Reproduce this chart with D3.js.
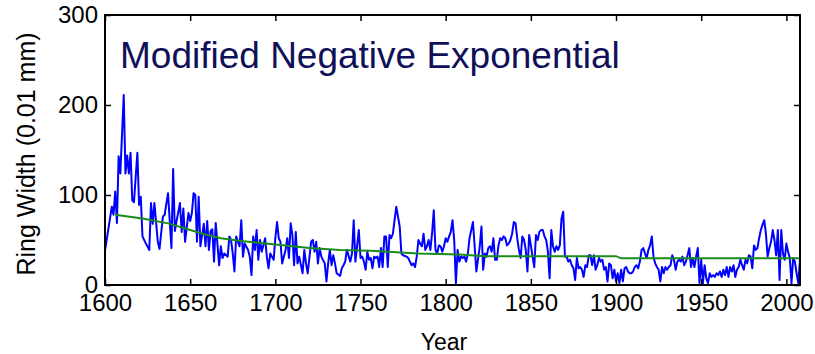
<!DOCTYPE html>
<html>
<head>
<meta charset="utf-8">
<script src="https://cdn.jsdelivr.net/npm/d3@7"></script>
<style>
  html, body { margin: 0; padding: 0; background: #fff; }
  svg { display: block; font-family: "Liberation Sans", Arial, sans-serif; }
</style>
</head>
<body>
<svg id="chart" width="815" height="354"></svg>
<script>
// Raw ring-width series (0.01 mm), by calendar year
const years = [
  1600,1604,1605,1606,1607,1608,1609,1611,1612,1613,1614,1615,1616,1617,1619,1620,1621,1622,1624,1626,
  1627,1628,1629,1631,1632,1634,1635,1637,1639,1640,1641,1642,1644,1645,1646,1647,1649,1650,1651,1652,
  1653,1654,1655,1656,1658,1659,1660,1661,1662,1663,1664,1665,1667,1668,1669,1670,1672,1673,1674,1675,
  1676,1677,1679,1680,1681,1682,1684,1685,1686,1687,1688,1689,1690,1691,1692,1694,1695,1696,1697,1699,
  1700,1701,1702,1703,1704,1706,1707,1708,1709,1710,1711,1712,1713,1714,1716,1717,1718,1719,1721,1722,
  1723,1724,1725,1726,1727,1729,1730,1731,1732,1733,1734,1735,1736,1738,1739,1740,1741,1742,1744,1745,
  1746,1747,1749,1750,1751,1752,1753,1754,1755,1756,1757,1758,1759,1760,1761,1762,1763,1764,1765,1766,
  1767,1768,1769,1770,1771,1773,1774,1775,1777,1778,1780,1781,1782,1783,1784,1785,1786,1787,1788,1789,
  1790,1791,1792,1793,1794,1795,1796,1797,1798,1799,1800,1801,1802,1803,1804,1805,1806,1807,1808,1809,
  1810,1811,1812,1813,1814,1816,1817,1818,1820,1821,1822,1823,1824,1825,1826,1827,1828,1829,1830,1831,
  1832,1833,1834,1835,1836,1837,1838,1839,1840,1841,1842,1843,1844,1845,1846,1847,1848,1849,1850,1851,
  1852,1853,1854,1855,1856,1857,1858,1859,1860,1861,1862,1863,1864,1865,1866,1867,1868,1869,1870,1871,
  1872,1873,1874,1875,1876,1877,1878,1879,1880,1881,1882,1883,1884,1885,1886,1887,1888,1889,1890,1891,
  1892,1893,1894,1895,1896,1897,1898,1899,1900,1901,1902,1903,1904,1905,1906,1907,1908,1909,1910,1911,
  1912,1913,1914,1915,1916,1917,1918,1919,1920,1921,1922,1923,1924,1925,1926,1927,1928,1929,1930,1931,
  1932,1933,1934,1935,1936,1937,1938,1939,1940,1941,1942,1943,1944,1945,1946,1947,1948,1949,1950,1951,
  1952,1953,1954,1955,1956,1957,1958,1959,1960,1961,1962,1963,1964,1965,1966,1967,1968,1969,1970,1971,
  1972,1973,1974,1975,1976,1977,1978,1979,1980,1981,1982,1983,1984,1985,1986,1987,1988,1989,1990,1991,
  1992,1993,1994,1995,1996,1997,1998,1999,2000,2001,2002,2003,2004,2005,2006,2007,2008
];
const ringWidth = [
  38,87,78,104,69,143,124,211,124,144,124,147,94,92,147,89,98,54,46,39,
  91,68,91,48,40,76,78,102,41,129,60,71,91,59,85,48,80,71,80,102,
  100,48,98,43,68,43,71,39,60,62,26,69,22,43,30,35,31.5,54,50,35,
  15,54,43,72,31.5,46,39,31.5,11,54,39,61,28,50,37,52,31.5,18.5,35,28,
  52,70,52,48,24,39,52,30,68.5,55.6,22,59,24,31.5,13,39,24,13,48,50,
  37,48,24,41,31.5,24,4,24,39,22,33,24,13,10,18.5,22,26,39,26,35,
  72,26,61,30,31.5,26,17,37,28,30,18.5,31.5,30,31.5,20,41,20,54,54,20,
  55.6,52,57,72,87,65,35,33,31.5,30,22,24,20,31.5,50,46,43,57,39,43,
  50,39,57,83,39,35,44,43,37,43,52,48,54,59,72,50,2,39,26,31.5,
  30,31.5,26,35,52,70,43,15,43,65,17,35,31.5,41,43,37,52,28,28,44,
  52,50,54,52,44,46,50,57,70,68.5,52,39,30,54,50,39,15,55.6,44,31.5,
  20,55.6,50,59,61,61,54,50,37,7.4,61,43,37,43,39,44,74,81.5,31.5,31.5,
  26,28,22,18.5,5.6,30,18.5,20,17,9,22,20,33,33,22,33,17,22,30,26,
  28,17,20,4,24,22,7.4,17,4,13,2,17,4,18.5,20,15,13,13,15,20,
  22,18.5,26,39,41,35,30,39,44,54,31.5,24,20,17,4,20,13,20,17,20,
  22,33,28,17,26,28,26,31.5,22,26,33,41,20,30,20,31.5,41,2,28,2,
  22,7.4,2,13,9,11,9,13,11,15,9,17,11,20,9,20,15,22,9,17,
  20,28,22,17,28,24,33,31.5,18.5,44,39,41,52,61,67,72,57,31.5,41,48,
  61,50,33,61,5.6,61,35,28,46,37,30,2,30,26,13,2,28
];

// Fitted modified negative exponential growth curve
const fitYears  = [1606,1622,1637,1652,1660,1668,1680,1690,1700,1710,1720,1738,1756,1784,1808,1823,1900,1903,2008];
const fitValues = [78,74,68.5,60,55.5,52,49,47,45,43,41,39,38,35,34,32,32,29.6,29.6];

// Axis ticks and labels
const xTicks = [1600,1650,1700,1750,1800,1850,1900,1950,2000];
const yTicks = [0,100,200,300];
const titleText = "Modified Negative Exponential";
const xLabel = "Year";
const yLabel = "Ring Width (0.01 mm)";

const svg = d3.select("#chart");
const plotLeft = 105, plotRight = 800, plotTop = 15, plotBottom = 285;

const x = d3.scaleLinear().domain([1600, 2008]).range([plotLeft, plotRight]);
const y = d3.scaleLinear().domain([0, 300]).range([plotBottom, plotTop]);

// Data lines, clipped to the plot frame
svg.append("clipPath").attr("id", "plotClip")
  .append("rect").attr("x", plotLeft).attr("y", plotTop)
  .attr("width", plotRight - plotLeft).attr("height", plotBottom - plotTop);

const plot = svg.append("g").attr("clip-path", "url(#plotClip)");

const line = d3.line().x(d => x(d[0])).y(d => y(d[1]));
plot.append("path")
  .datum(years.map((yr, i) => [yr, ringWidth[i]]))
  .attr("d", line)
  .attr("fill", "none")
  .attr("stroke", "#0000ff")
  .attr("stroke-width", 2)
  .attr("stroke-linejoin", "round");

plot.append("path")
  .datum(fitYears.map((yr, i) => [yr, fitValues[i]]))
  .attr("d", line)
  .attr("fill", "none")
  .attr("stroke", "#1a8c1a")
  .attr("stroke-width", 2);

// Axes with inward ticks on all four sides
const tickLen = 6;
const fontSize = 24;

const bottomAxis = d3.axisBottom(x).tickValues(xTicks).tickSize(-tickLen).tickPadding(9).tickFormat(d3.format("d"));
const topAxis = d3.axisTop(x).tickValues(xTicks).tickSize(-tickLen).tickFormat("");
const leftAxis = d3.axisLeft(y).tickValues(yTicks).tickSize(-tickLen).tickPadding(7);
const rightAxis = d3.axisRight(y).tickValues(yTicks).tickSize(-tickLen).tickFormat("");

function styleAxis(g) {
  g.select(".domain").remove();
  g.selectAll(".tick line").attr("stroke", "#000").attr("stroke-width", 1.5);
  g.selectAll(".tick text").attr("fill", "#000").style("font-size", fontSize + "px")
    .style("font-family", "'Liberation Sans', Arial, sans-serif");
}

svg.append("g").attr("transform", `translate(0,${plotBottom})`).call(bottomAxis).call(styleAxis);
svg.append("g").attr("transform", `translate(0,${plotTop})`).call(topAxis).call(styleAxis);
svg.append("g").attr("transform", `translate(${plotLeft},0)`).call(leftAxis).call(styleAxis);
svg.append("g").attr("transform", `translate(${plotRight},0)`).call(rightAxis).call(styleAxis);

// Plot frame
svg.append("rect")
  .attr("x", plotLeft).attr("y", plotTop)
  .attr("width", plotRight - plotLeft).attr("height", plotBottom - plotTop)
  .attr("fill", "none").attr("stroke", "#000").attr("stroke-width", 2);

// Title inside the plot
svg.append("text")
  .attr("x", 120).attr("y", 68)
  .attr("fill", "#101058")
  .style("font-size", "37px")
  .text(titleText);

// Axis titles
svg.append("text")
  .attr("x", 444).attr("y", 350)
  .attr("text-anchor", "middle")
  .style("font-size", "23px")
  .text(xLabel);

svg.append("text")
  .attr("transform", `translate(35,154) rotate(-90)`)
  .attr("text-anchor", "middle")
  .style("font-size", "25px")
  .text(yLabel);
</script>
</body>
</html>
